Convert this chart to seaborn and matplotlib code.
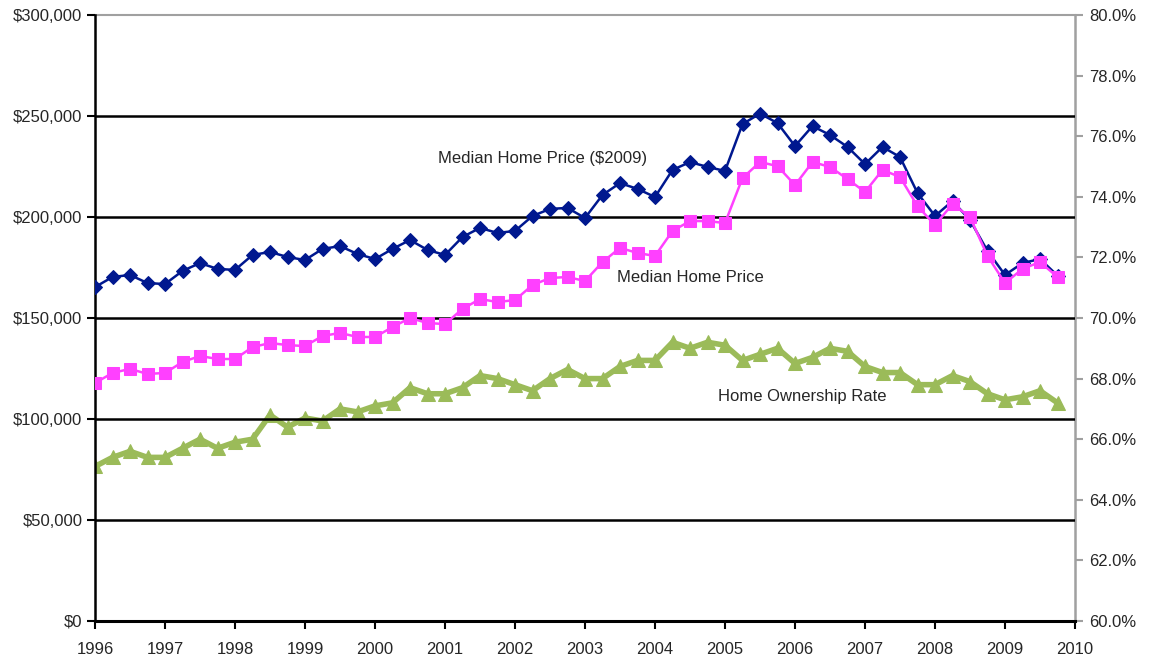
import numpy as np
import pandas as pd
import seaborn as sns
import matplotlib.pyplot as plt
from matplotlib.ticker import FuncFormatter, MultipleLocator

# quarterly observations, 1996 Q1 .. 2009 Q4
quarters = np.arange(1996, 2010, 0.25)

# median home price in 2009 dollars (thousands)
price_2009 = [165.3, 170.3, 171.3, 167.3, 166.8, 173.3, 177.2, 174.3,
              173.8, 181.2, 182.7, 180.2, 178.7, 184.2, 185.6, 181.7,
              179.2, 184.2, 188.6, 183.7, 181.2, 190.1, 194.6, 192.1,
              193.1, 200.5, 204.0, 204.5, 199.5, 210.9, 216.8, 213.9,
              209.9, 223.3, 227.2, 224.8, 222.8, 246.0, 251.2, 246.5,
              235.1, 245.0, 240.6, 234.7, 226.2, 234.7, 229.7, 211.9,
              200.5, 207.9, 198.5, 183.2, 171.3, 177.2, 179.2, 171.0]

# nominal median home price (thousands)
price_nominal = [117.8, 122.8, 124.8, 122.3, 122.8, 128.2, 131.2, 129.7,
                 129.7, 135.6, 137.6, 136.6, 136.1, 141.1, 142.6, 140.6,
                 140.6, 145.5, 150.0, 147.5, 147.0, 154.5, 159.4, 157.9,
                 158.9, 166.3, 169.8, 170.3, 168.3, 177.7, 184.7, 182.2,
                 180.7, 193.1, 198.0, 198.0, 197.0, 219.3, 227.2, 225.2,
                 215.8, 227.2, 224.8, 218.8, 212.4, 223.3, 219.8, 205.4,
                 196.0, 206.4, 200.0, 180.7, 167.3, 174.3, 177.7, 170.3]

# home ownership rate (%)
ownership = [65.1, 65.4, 65.6, 65.4, 65.4, 65.7, 66.0, 65.7,
             65.9, 66.0, 66.8, 66.4, 66.7, 66.6, 67.0, 66.9,
             67.1, 67.2, 67.7, 67.5, 67.5, 67.7, 68.1, 68.0,
             67.8, 67.6, 68.0, 68.3, 68.0, 68.0, 68.4, 68.6,
             68.6, 69.2, 69.0, 69.2, 69.1, 68.6, 68.8, 69.0,
             68.5, 68.7, 69.0, 68.9, 68.4, 68.2, 68.2, 67.8,
             67.8, 68.1, 67.9, 67.5, 67.3, 67.4, 67.6, 67.2]

df = pd.DataFrame({
    "quarter": quarters,
    "real": np.array(price_2009) * 1000,
    "nominal": np.array(price_nominal) * 1000,
    "own": ownership,
})

sns.set_style("white")
plt.rcParams["font.family"] = ["Liberation Sans", "DejaVu Sans"]

fig = plt.figure(figsize=(11.49, 6.63), dpi=100)
ax = fig.add_axes([95 / 1149, 1 - 621 / 663, 980 / 1149, 606 / 663])
ax2 = ax.twinx()

# green line on the secondary axis
sns.lineplot(data=df, x="quarter", y="own", ax=ax2, color="#9bbb59",
             linewidth=4, marker="^", markersize=10, markeredgecolor="#9bbb59")

sns.lineplot(data=df, x="quarter", y="real", ax=ax, color="#00188f",
             linewidth=1.8, marker="D", markersize=7.5, markeredgecolor="#00188f",
             zorder=3)
sns.lineplot(data=df, x="quarter", y="nominal", ax=ax, color="#ff40ff",
             linewidth=1.8, marker="s", markersize=8, markeredgecolor="#ff40ff",
             zorder=4)

ax.set_xlim(1996, 2010)
ax.set_ylim(0, 300000)
ax2.set_ylim(60, 80)
ax.set_xlabel("")
ax.set_ylabel("")
ax2.set_ylabel("")

ax.xaxis.set_major_locator(MultipleLocator(1))
ax.xaxis.set_major_formatter(FuncFormatter(lambda v, p: f"{int(v)}"))
ax.yaxis.set_major_locator(MultipleLocator(50000))
ax.yaxis.set_major_formatter(FuncFormatter(lambda v, p: f"${v:,.0f}"))
ax2.yaxis.set_major_locator(MultipleLocator(2))
ax2.yaxis.set_major_formatter(FuncFormatter(lambda v, p: f"{v:.1f}%"))

for y in range(50000, 300000, 50000):
    ax.axhline(y, color="black", linewidth=1.8, zorder=0)

for a in (ax, ax2):
    for s in a.spines.values():
        s.set_visible(False)
ax.spines["left"].set_visible(True)
ax.spines["left"].set_color("black")
ax.spines["left"].set_linewidth(1.8)
ax.spines["bottom"].set_visible(True)
ax.spines["bottom"].set_color("black")
ax.spines["bottom"].set_linewidth(2.2)
ax2.spines["right"].set_visible(True)
ax2.spines["right"].set_color("#a0a0a0")
ax2.spines["right"].set_linewidth(1.8)
ax2.spines["top"].set_visible(True)
ax2.spines["top"].set_color("#a0a0a0")
ax2.spines["top"].set_linewidth(1.5)

ax.tick_params(axis="y", direction="out", length=6, width=1.5, color="black",
               labelsize=12, pad=3, left=True)
ax.tick_params(axis="x", direction="out", length=6, width=1.5, color="black",
               labelsize=12, pad=9, bottom=True)
ax2.tick_params(axis="y", direction="out", length=6, width=1.5, color="#a0a0a0",
                labelsize=12, pad=4, right=True)

ax.set_zorder(ax2.get_zorder() + 1)
ax.patch.set_visible(False)

ax.text(2002.4, 229000, "Median Home Price ($2009)", fontsize=12, ha="center", va="center")
ax.text(2004.51, 170000, "Median Home Price", fontsize=12, ha="center", va="center")
ax.text(2006.1, 111000, "Home Ownership Rate", fontsize=12, ha="center", va="center")

fig.savefig("out.png", dpi=100)
